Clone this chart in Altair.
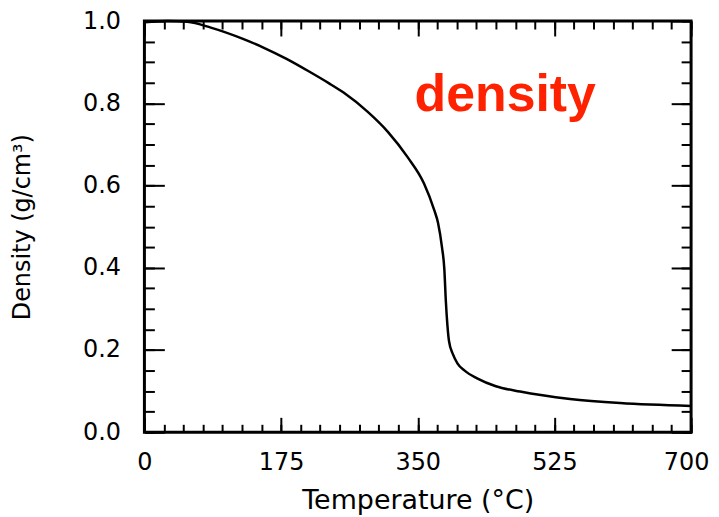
import altair as alt
import pandas as pd

# curve
temperature = [0, 30, 55, 85, 127, 153, 182, 212, 236, 255, 286, 312, 337, 358, 371,
               376, 381, 384, 386, 388, 390, 395, 401, 410, 426, 450, 481, 545, 609, 700]
density = [0.997, 1.0, 0.998, 0.984, 0.956, 0.935, 0.908, 0.876, 0.849, 0.826, 0.779,
           0.73, 0.669, 0.605, 0.541, 0.509, 0.45, 0.398, 0.318, 0.26, 0.222, 0.19,
           0.167, 0.15, 0.131, 0.112, 0.099, 0.081, 0.071, 0.064]

x_major = [0, 175, 350, 525, 700]
x_minor = [0, 25, 50, 75, 100, 125, 150, 175, 200, 225, 250, 275, 300, 325, 350,
           375, 400, 425, 450, 475, 500, 525, 550, 575, 600, 625, 650, 675, 700]
y_major = [0.0, 0.2, 0.4, 0.6, 0.8, 1.0]
y_minor = [0.0, 0.05, 0.1, 0.15, 0.2, 0.25, 0.3, 0.35, 0.4, 0.45, 0.5, 0.55, 0.6,
           0.65, 0.7, 0.75, 0.8, 0.85, 0.9, 0.95, 1.0]

note_text = ["density"]
note_x = [462]
note_y = [0.782]

df = pd.DataFrame({"T": temperature, "D": density})
note_df = pd.DataFrame({"T": note_x, "D": note_y, "label": note_text})

FONT = "DejaVu Sans"
xs = alt.Scale(domain=[0, 700], nice=False, zero=False)
ys = alt.Scale(domain=[0, 1], nice=False)


def tick_axis(orient, values, length):
    return alt.Axis(orient=orient, values=values, offset=-length, tickSize=length,
                    tickWidth=2, tickColor="black", labels=False, domain=False,
                    grid=False, title=None)


main = alt.Chart(df).mark_line(color="black", strokeWidth=2.5, interpolate="monotone").encode(
    x=alt.X("T:Q", scale=xs, axis=alt.Axis(
        orient="bottom", values=x_major, ticks=False, domain=False, grid=False,
        labelFlush=False, labelOffset={"expr": "datum.value == 700 ? -5 : 0"},
        labelFont=FONT, labelFontSize=24, labelColor="black", labelPadding=18,
        title="Temperature (°C)", titleFont=FONT, titleFontSize=27,
        titleFontWeight="normal", titleColor="black", titlePadding=14)),
    y=alt.Y("D:Q", scale=ys, axis=alt.Axis(
        orient="left", values=y_major, ticks=False, domain=False, grid=False,
        format=".1f", labelFont=FONT, labelFontSize=24, labelColor="black",
        labelPadding=24, title="Density (g/cm³)", titleFont=FONT, titleFontSize=24,
        titleFontWeight="normal", titleColor="black", titlePadding=48)),
)


def ghost(xaxis, yaxis):
    return alt.Chart(df).mark_line(strokeOpacity=0).encode(
        x=alt.X("T:Q", scale=xs, axis=xaxis),
        y=alt.Y("D:Q", scale=ys, axis=yaxis),
    )


layers = [
    main,
    ghost(tick_axis("bottom", x_minor, 8), tick_axis("left", y_minor, 10)),
    ghost(tick_axis("bottom", x_major, 15), tick_axis("left", y_major, 20)),
    ghost(tick_axis("top", x_minor, 8), tick_axis("right", y_minor, 10)),
    ghost(tick_axis("top", x_major, 15), tick_axis("right", y_major, 20)),
]

note = alt.Chart(note_df).mark_text(
    font="Liberation Sans", fontSize=52, fontWeight="bold", color="#ff2200",
    align="center", baseline="alphabetic").encode(
    x=alt.X("T:Q", scale=xs, axis=None),
    y=alt.Y("D:Q", scale=ys, axis=None),
    text="label:N",
)

chart = alt.layer(*layers, note).resolve_axis(x="independent", y="independent").properties(
    width=549, height=413,
    autosize=alt.AutoSizeParams(type="none"),
    padding={"left": 137, "top": 12, "right": 20, "bottom": 85},
).configure_view(stroke="black", strokeWidth=3)

chart.save("out.html", embed_options={"renderer": "svg", "actions": False})
